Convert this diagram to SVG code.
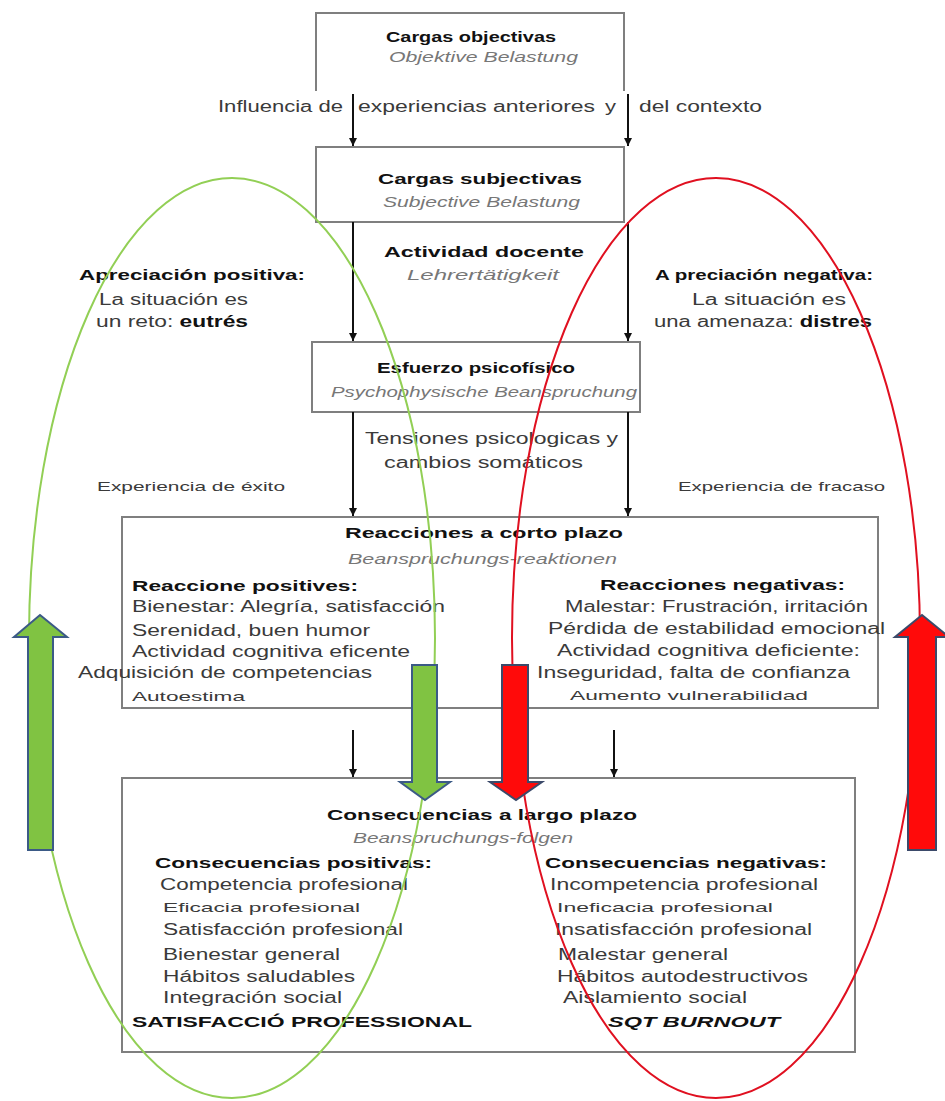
<svg xmlns="http://www.w3.org/2000/svg" width="945" height="1101" viewBox="0 0 945 1101">
<style>
text{font-family:"Liberation Sans",Arial,sans-serif;font-size:16px;fill:#3a3a3a}
.b{font-weight:bold;fill:#111}
.h{font-size:15px}
.i{font-style:italic;fill:#777;font-size:15px}
.s{font-size:13px}
.box{fill:none;stroke:#7f7f7f;stroke-width:2}
.con{stroke:#111;stroke-width:2;fill:none;marker-end:url(#ah)}
.ga{fill:#80c342;stroke:#3b5a86;stroke-width:2}
.ra{fill:#ff0a0a;stroke:#3b4a6a;stroke-width:2}
.eg{fill:none;stroke:#92cf55;stroke-width:2}
.er{fill:none;stroke:#e01020;stroke-width:2}
</style>
<defs>
<marker id="ah" viewBox="0 0 10 10" refX="10" refY="5" markerWidth="8" markerHeight="8" markerUnits="userSpaceOnUse" orient="auto"><path d="M0,0 L10,5 L0,10 z" fill="#111"/></marker>
</defs>
<rect width="945" height="1101" fill="#fff"/>

<g id="n-cargas-objectivas">
<path class="box" d="M316,91 V13 H624 V91"/>
<text class="b h" x="386" y="42" textLength="170" lengthAdjust="spacingAndGlyphs">Cargas objectivas</text>
<text class="i" x="389" y="62" textLength="189" lengthAdjust="spacingAndGlyphs">Objektive Belastung</text>
</g>
<g id="l-influencia">
<text x="218" y="112" textLength="125" lengthAdjust="spacingAndGlyphs">Influencia de</text>
<text x="358" y="112" textLength="237" lengthAdjust="spacingAndGlyphs">experiencias anteriores</text>
<text x="605" y="112" textLength="11" lengthAdjust="spacingAndGlyphs">y</text>
<text x="639" y="112" textLength="123" lengthAdjust="spacingAndGlyphs">del contexto</text>
</g>

<g id="n-cargas-subjectivas">
<rect class="box" x="316" y="147" width="308" height="75"/>
<text class="b h" x="378" y="184" textLength="204" lengthAdjust="spacingAndGlyphs">Cargas subjectivas</text>
<text class="i" x="383" y="207" textLength="197" lengthAdjust="spacingAndGlyphs">Subjective Belastung</text>
</g>

<g id="l-actividad">
<text class="b h" x="384" y="257" textLength="200" lengthAdjust="spacingAndGlyphs">Actividad docente</text>
<text class="i" x="407" y="280" textLength="152" lengthAdjust="spacingAndGlyphs">Lehrertätigkeit</text>
</g>
<g id="l-apreciacion-positiva">
<text class="b h" x="79" y="280" textLength="226" lengthAdjust="spacingAndGlyphs">Apreciación positiva:</text>
<text x="99" y="305" textLength="149" lengthAdjust="spacingAndGlyphs">La situación es</text>
<text x="96" y="327" textLength="152" lengthAdjust="spacingAndGlyphs">un reto: <tspan class="b">eutrés</tspan></text>
</g>
<g id="l-apreciacion-negativa">
<text class="b h" x="655" y="280" textLength="218" lengthAdjust="spacingAndGlyphs">A preciación negativa:</text>
<text x="692" y="305" textLength="154" lengthAdjust="spacingAndGlyphs">La situación es</text>
<text x="654" y="327" textLength="218" lengthAdjust="spacingAndGlyphs">una amenaza: <tspan class="b">distres</tspan></text>
</g>

<g id="n-esfuerzo">
<rect class="box" x="312" y="342" width="328" height="70"/>
<text class="b h" x="377" y="373" textLength="198" lengthAdjust="spacingAndGlyphs">Esfuerzo psicofísico</text>
<text class="i" x="331" y="397" textLength="306" lengthAdjust="spacingAndGlyphs">Psychophysische Beanspruchung</text>
</g>
<g id="l-tensiones">
<text x="365" y="444" textLength="253" lengthAdjust="spacingAndGlyphs">Tensiones psicologicas y</text>
<text x="384" y="468" textLength="199" lengthAdjust="spacingAndGlyphs">cambios somáticos</text>
</g>
<g id="l-experiencias">
<text class="s" x="97" y="491" textLength="188" lengthAdjust="spacingAndGlyphs">Experiencia de éxito</text>
<text class="s" x="678" y="491" textLength="207" lengthAdjust="spacingAndGlyphs">Experiencia de fracaso</text>
</g>

<g id="n-reacciones">
<rect class="box" x="122" y="517" width="756" height="191"/>
<text class="b h" x="345" y="538" textLength="278" lengthAdjust="spacingAndGlyphs">Reacciones  a corto plazo</text>
<text class="i" x="348" y="564" textLength="269" lengthAdjust="spacingAndGlyphs">Beanspruchungs-reaktionen</text>
<text class="b h" x="132" y="591" textLength="226" lengthAdjust="spacingAndGlyphs">Reaccione positives:</text>
<text x="132" y="612" textLength="313" lengthAdjust="spacingAndGlyphs">Bienestar: Alegría, satisfacción</text>
<text x="132" y="636" textLength="238" lengthAdjust="spacingAndGlyphs">Serenidad, buen humor</text>
<text x="132" y="657" textLength="278" lengthAdjust="spacingAndGlyphs">Actividad cognitiva eficente</text>
<text x="78" y="678" textLength="294" lengthAdjust="spacingAndGlyphs">Adquisición de competencias</text>
<text class="s" x="132" y="701" textLength="113" lengthAdjust="spacingAndGlyphs">Autoestima</text>
<text class="b h" x="600" y="590" textLength="245" lengthAdjust="spacingAndGlyphs">Reacciones negativas:</text>
<text x="565" y="612" textLength="303" lengthAdjust="spacingAndGlyphs">Malestar: Frustración, irritación</text>
<text x="548" y="634" textLength="337" lengthAdjust="spacingAndGlyphs">Pérdida de estabilidad emocional</text>
<text x="557" y="656" textLength="303" lengthAdjust="spacingAndGlyphs">Actividad cognitiva deficiente:</text>
<text x="537" y="678" textLength="313" lengthAdjust="spacingAndGlyphs">Inseguridad, falta de confianza</text>
<text class="s" x="570" y="700" textLength="238" lengthAdjust="spacingAndGlyphs">Aumento vulnerabilidad</text>
</g>

<g id="n-consecuencias">
<rect class="box" x="122" y="778" width="733" height="274"/>
<text class="b h" x="327" y="820" textLength="310" lengthAdjust="spacingAndGlyphs">Consecuencias a largo plazo</text>
<text class="i" x="353" y="843" textLength="220" lengthAdjust="spacingAndGlyphs">Beanspruchungs-folgen</text>
<text class="b h" x="155" y="868" textLength="277" lengthAdjust="spacingAndGlyphs">Consecuencias positivas:</text>
<text x="160" y="890" textLength="248" lengthAdjust="spacingAndGlyphs">Competencia profesional</text>
<text class="s" x="163" y="912" textLength="197" lengthAdjust="spacingAndGlyphs">Eficacia profesional</text>
<text x="163" y="935" textLength="240" lengthAdjust="spacingAndGlyphs">Satisfacción profesional</text>
<text x="163" y="960" textLength="177" lengthAdjust="spacingAndGlyphs">Bienestar general</text>
<text x="163" y="982" textLength="192" lengthAdjust="spacingAndGlyphs">Hábitos saludables</text>
<text x="163" y="1003" textLength="179" lengthAdjust="spacingAndGlyphs">Integración social</text>
<text class="b h" x="132" y="1027" textLength="340" lengthAdjust="spacingAndGlyphs">SATISFACCIÓ PROFESSIONAL</text>
<text class="b h" x="545" y="868" textLength="282" lengthAdjust="spacingAndGlyphs">Consecuencias negativas:</text>
<text x="550" y="890" textLength="268" lengthAdjust="spacingAndGlyphs">Incompetencia profesional</text>
<text class="s" x="557" y="912" textLength="216" lengthAdjust="spacingAndGlyphs">Ineficacia profesional</text>
<text x="555" y="935" textLength="257" lengthAdjust="spacingAndGlyphs">Insatisfacción profesional</text>
<text x="558" y="960" textLength="170" lengthAdjust="spacingAndGlyphs">Malestar general</text>
<text x="557" y="982" textLength="251" lengthAdjust="spacingAndGlyphs">Hábitos autodestructivos</text>
<text x="563" y="1003" textLength="184" lengthAdjust="spacingAndGlyphs">Aislamiento social</text>
<text class="b h" x="608" y="1027" textLength="172" lengthAdjust="spacingAndGlyphs" font-style="italic">SQT BURNOUT</text>
</g>

<g id="connectors">
<line class="con" x1="353" y1="94" x2="353" y2="146"/>
<line class="con" x1="628" y1="94" x2="628" y2="146"/>
<line class="con" x1="353" y1="222" x2="353" y2="341"/>
<line class="con" x1="628" y1="222" x2="628" y2="341"/>
<line class="con" x1="353" y1="412" x2="353" y2="516"/>
<line class="con" x1="628" y1="412" x2="628" y2="516"/>
<line class="con" x1="353" y1="730" x2="353" y2="777"/>
<line class="con" x1="614" y1="730" x2="614" y2="777"/>
</g>

<g id="ellipse-eutres">
<ellipse class="eg" cx="232" cy="638" rx="203" ry="460"/>
</g>
<g id="ellipse-distres">
<ellipse class="er" cx="716" cy="638" rx="204" ry="460"/>
</g>

<g id="arrow-green-up">
<polygon class="ga" points="40,615 67,637 53,637 53,850 28,850 28,637 14,637"/>
</g>
<g id="arrow-red-up">
<polygon class="ra" points="922,615 949,637 936,637 936,850 908,850 908,637 895,637"/>
</g>
<g id="arrow-green-down">
<polygon class="ga" points="412,665 437,665 437,782 450,782 425,800 400,782 412,782"/>
</g>
<g id="arrow-red-down">
<polygon class="ra" points="502,665 528,665 528,782 542,782 516,800 490,782 502,782"/>
</g>
</svg>
